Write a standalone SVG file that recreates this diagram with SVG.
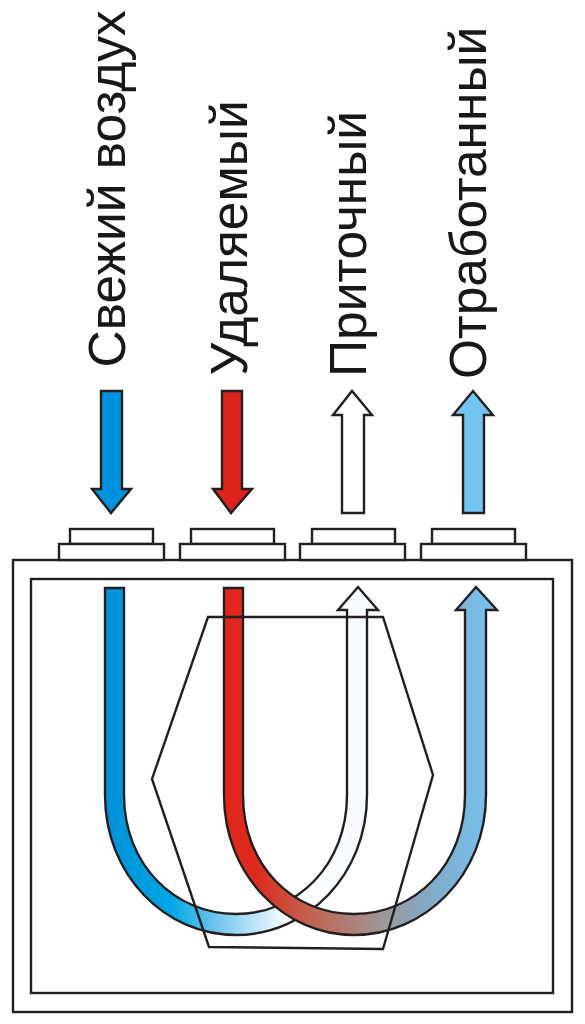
<svg xmlns="http://www.w3.org/2000/svg" width="585" height="1024" viewBox="0 0 585 1024">
<style>
.l{fill:none;stroke:#231f20;stroke-width:2.4}
.w{fill:#fff;stroke:#231f20;stroke-width:2.4}
.t{font-family:"Liberation Sans",Arial,sans-serif;font-size:51.5px;fill:#1a1718}
</style>
<defs>
<linearGradient id="gb" gradientUnits="userSpaceOnUse" x1="105" y1="0" x2="367" y2="0">
<stop offset="0" stop-color="#0090d8"/><stop offset=".25" stop-color="#00a6e6"/><stop offset=".42" stop-color="#6cc4ef"/><stop offset=".7" stop-color="#fff"/><stop offset="1" stop-color="#f5faff"/>
</linearGradient>
<linearGradient id="gr" gradientUnits="userSpaceOnUse" x1="224" y1="0" x2="487" y2="0">
<stop offset="0" stop-color="#e2261b"/><stop offset=".12" stop-color="#dc2a1e"/><stop offset=".32" stop-color="#c4604e"/><stop offset=".62" stop-color="#9a9a9c"/><stop offset=".76" stop-color="#84a8c4"/><stop offset="1" stop-color="#76c0ec"/>
</linearGradient>
</defs>
<g id="housing">
<rect class="w" x="13" y="560" width="559" height="452"/>
<rect class="l" x="31" y="579" width="522" height="414"/>
</g>
<g id="port-1"><rect class="w" x="70" y="529" width="83" height="15"/><rect class="w" x="59" y="544" width="105" height="16"/></g>
<g id="port-2"><rect class="w" x="191" y="529" width="83" height="15"/><rect class="w" x="180" y="544" width="105" height="16"/></g>
<g id="port-3"><rect class="w" x="312" y="529" width="83" height="15"/><rect class="w" x="300" y="544" width="105" height="16"/></g>
<g id="port-4"><rect class="w" x="432" y="529" width="83" height="15"/><rect class="w" x="421" y="544" width="105" height="16"/></g>
<g id="connectors">
<path class="l" style="fill:#0092dc" d="M101,391H122V489H131L111,513L92,489H101Z"/>
<path class="l" style="fill:#dc241b" d="M222,391H242V489H252L231,513L213,489H222Z"/>
<path class="w" d="M342,513H364V415H372L352,391L333,415H342Z"/>
<path class="l" style="fill:#74c4f0" d="M463,513H484V415H493L473,391L453,415H463Z"/>
<path class="l" style="fill:url(#gb)" d="M105,588H124V795C124,865 175,914 236,914C297,914 347,865 347,795V610H338L358,587L378,610H367V795C367,875 307,935 236,935C165,935 105,875 105,795Z"/>
<path class="l" style="fill:url(#gr)" d="M224,588H243V795C243,865 292,914 354,914C415,914 465,865 465,795V610H456L476,587L497,610H486V795C486,875 425,935 354,935C284,935 224,875 224,795Z"/>
</g>
<g id="exchanger"><path class="l" d="M208,617H383L433,775L383,949L209,947L152,779Z"/></g>
<g id="labels">
<text class="t" transform="translate(124.5,367.5) rotate(-90)">Свежий воздух</text>
<text class="t" transform="translate(246.5,375.5) rotate(-90)">Удаляемый</text>
<text class="t" transform="translate(365.5,377) rotate(-90)">Приточный</text>
<text class="t" transform="translate(486,379) rotate(-90)">Отработанный</text>
</g>
</svg>
